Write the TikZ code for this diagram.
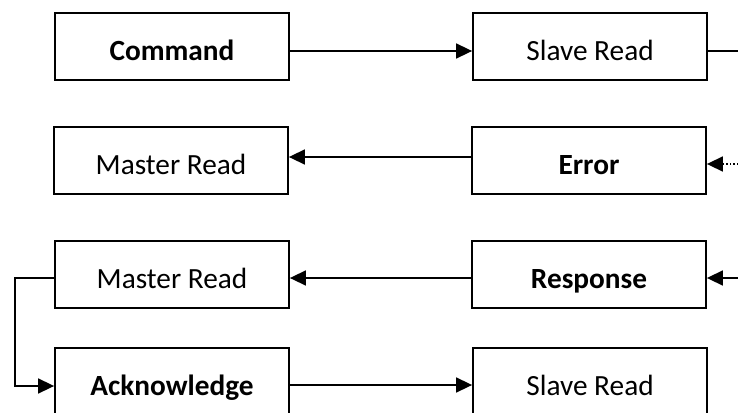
\documentclass[tikz,border=0pt]{standalone}
\usepackage{fontspec}
\setmainfont{Carlito}
\usetikzlibrary{arrows.meta}
\begin{document}
\begin{tikzpicture}[x=1pt,y=-1pt,
  box/.style={draw,line width=1.8pt,minimum width=234pt,minimum height=67pt,
    inner sep=0pt,text height=27pt,text depth=0pt,font=\fontsize{29.3}{33}\selectfont},
  bbox/.style={box,font=\fontsize{29.3}{33}\selectfont\bfseries},
  tip/.style={-{Triangle[length=16pt,width=15pt]}},
  conn/.style={line width=1.6pt,tip},
  plain/.style={line width=1.6pt}]
\clip (0,0) rectangle (738,412);
\fill[white] (0,0) rectangle (738,412);
\node[bbox] (cmd) at (172,46.5) {Command};
\node[box]  (sr1) at (590,46.5) {Slave Read};
\node[box]  (mr2) at (171,160.5) {Master Read};
\node[bbox] (err) at (589,160.5) {Error};
\node[box]  (mr3) at (172,274.5) {Master Read};
\node[bbox] (resp) at (589,274.5) {Response};
\node[bbox] (ack) at (172,381.5) {Acknowledge};
\node[box]  (sr4) at (590,381.5) {Slave Read};
\coordinate (o1) at (760,51);
\coordinate (i2) at (760,164);
\coordinate (i3) at (760,278);
\coordinate (lb) at (15,0);
\draw[conn] ([yshift=-4.5pt]cmd.east) -- ([yshift=-4.5pt]sr1.west);
\draw[plain] ([yshift=-4.5pt]sr1.east) -- (o1);
\draw[conn] ([yshift=3.5pt]err.west) -- ([yshift=3.5pt]mr2.east);
\draw[line width=1.6pt,dotted,tip] (i2) -- ([yshift=-3.5pt]err.east);
\draw[conn] ([yshift=-3.5pt]resp.west) -- ([yshift=-3.5pt]mr3.east);
\draw[conn] (i3) -- ([yshift=-3.5pt]resp.east);
\draw[conn] ([yshift=-3.5pt]mr3.west) -| ([yshift=-3.5pt]lb |- mr3.west) |- ([yshift=-4.5pt]lb |- ack.west) -- ([yshift=-4.5pt]ack.west);
\draw[conn] ([yshift=-3.5pt]ack.east) -- ([yshift=-3.5pt]sr4.west);
\end{tikzpicture}
\end{document}
